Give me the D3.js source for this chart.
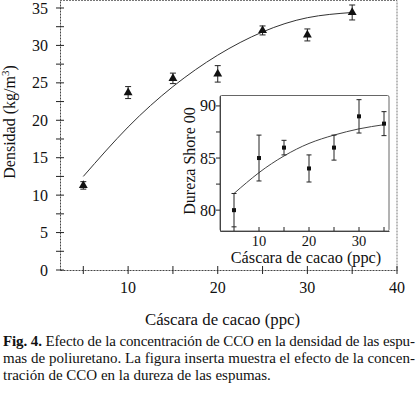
<!DOCTYPE html>
<html><head><meta charset="utf-8">
<script src="https://cdn.jsdelivr.net/npm/d3@7"></script>
<style>body{margin:0;background:#fff}svg{display:block}text{font-family:"Liberation Serif","Times New Roman",serif;fill:#111}</style>
</head><body><svg id="c" width="420" height="398"></svg>
<script>
// Main chart: density vs cocoa shell
const mainX = [5, 10, 15, 20, 25, 30, 35];
const mainY = [11.3, 23.7, 25.6, 26.2, 32.0, 31.4, 34.4];
const mainErr = [0.5, 0.8, 0.7, 1.1, 0.6, 0.8, 1.0];
const mainFitX = [5, 10, 15, 20, 25, 30, 35];
const mainFitY = [12.5, 19.1, 24.5, 28.7, 31.8, 33.7, 34.4];
const mainXTicks = [10, 20, 30, 40];
const mainYTicks = [0, 5, 10, 15, 20, 25, 30, 35];
// Inset: hardness vs cocoa shell
const insetX = [5, 10, 15, 20, 25, 30, 35];
const insetY = [80.0, 85.0, 86.0, 84.0, 86.0, 89.0, 88.3];
const insetErr = [1.6, 2.2, 0.7, 1.3, 1.2, 1.6, 1.15];
const insetFitX = [5, 10, 15, 20, 25, 30, 35];
const insetFitY = [81.6, 83.6, 85.2, 86.4, 87.2, 87.8, 88.2];
const insetXTicks = [10, 20, 30];
const insetYTicks = [80, 85, 90];
const captionLines = [
  ["Fig. 4.", " Efecto de la concentración de CCO en la densidad de las espu-"],
  ["", "mas de poliuretano. La figura inserta muestra el efecto de la concen-"],
  ["", "tración de CCO en la dureza de las espumas."]
];

const svg = d3.select("#c");
const ink = "#222";

// ---- main plot ----
const x = d3.scaleLinear().domain([2.4, 40]).range([60, 397]);
const y = d3.scaleLinear().domain([0, 36]).range([270, 0.5]);

svg.append("path").attr("d", `M${x(2.4)},${y(36)}H${x(40)}V${y(0)}`)
  .attr("fill","none").attr("stroke","#777").attr("stroke-width",1).attr("stroke-dasharray","2,1");

const gx = svg.append("g").attr("transform", `translate(0,${y(0)})`)
  .call(d3.axisBottom(x).tickValues(d3.range(5, 41, 5)).tickSize(0).tickFormat(""));
gx.select(".domain").attr("stroke", "#444").attr("stroke-dasharray","2,1");
d3.range(5, 41, 5).forEach(v => {
  gx.append("line").attr("x1", x(v)).attr("x2", x(v)).attr("y1", -4).attr("y2", 4).attr("stroke", ink);
});
mainXTicks.forEach(v => {
  gx.append("text").attr("x", x(v)).attr("y", 23).attr("text-anchor","middle")
    .attr("font-size", 16).text(v);
});

const gy = svg.append("g").attr("transform", `translate(${x(2.4)},0)`)
  .call(d3.axisLeft(y).tickValues([]).tickSize(0));
gy.select(".domain").attr("stroke", "#444").attr("stroke-dasharray","2,1");
d3.range(0, 36, 2.5).forEach(v => {
  gy.append("line").attr("x1", -4).attr("x2", 4).attr("y1", y(v)).attr("y2", y(v)).attr("stroke", ink);
});
mainYTicks.forEach(v => {
  gy.append("text").attr("x", -12).attr("y", y(v) + 5.5).attr("text-anchor","end")
    .attr("font-size", 16).text(v);
});

svg.append("path").datum(mainFitX.map((v,i)=>[v, mainFitY[i]]))
  .attr("d", d3.line().x(d=>x(d[0])).y(d=>y(d[1])).curve(d3.curveNatural))
  .attr("fill","none").attr("stroke","#333").attr("stroke-width",1);

const mg = svg.append("g");
mainX.forEach((v,i) => {
  const cx = x(v), lo = y(mainY[i]-mainErr[i]), hi = y(mainY[i]+mainErr[i]);
  mg.append("path").attr("d", `M${cx},${lo}V${hi}M${cx-3},${lo}H${cx+3}M${cx-3},${hi}H${cx+3}`)
    .attr("stroke", ink).attr("stroke-width", 1).attr("fill","none");
  mg.append("path").attr("transform", `translate(${cx},${y(mainY[i])})`)
    .attr("d", d3.symbol(d3.symbolTriangle, 34)()).attr("fill", "#111");
});

svg.append("text").attr("transform", `translate(14.5,122) rotate(-90)`).attr("text-anchor","middle")
  .attr("font-size", 16).html('Densidad (kg/m<tspan dy="-6" font-size="11">3</tspan><tspan dy="6">)</tspan>');
svg.append("text").attr("x", 222.5).attr("y", 325).attr("text-anchor","middle")
  .attr("font-size", 16.8).text("Cáscara de cacao (ppc)");

// ---- inset ----
const ix = d3.scaleLinear().domain([2.2, 36]).range([220, 389]);
const iy = d3.scaleLinear().domain([78, 91]).range([231, 95.5]);
svg.append("rect").attr("x", ix(2.2)).attr("y", iy(91)).attr("width", ix(36)-ix(2.2)).attr("height", iy(78)-iy(91))
  .attr("fill","#fff").attr("stroke","#666").attr("stroke-width",1).attr("rx",1.5);

const igx = svg.append("g").attr("transform", `translate(0,${iy(78)})`)
  .call(d3.axisBottom(ix).tickValues([]).tickSize(0));
igx.select(".domain").attr("stroke", "#444");
d3.range(5, 36, 5).forEach(v => {
  igx.append("line").attr("x1", ix(v)).attr("x2", ix(v)).attr("y1", -4).attr("y2", 0).attr("stroke", ink);
});
insetXTicks.forEach(v => {
  igx.append("text").attr("x", ix(v)).attr("y", 14.5).attr("text-anchor","middle").attr("font-size", 14.5).text(v);
});
const igy = svg.append("g").attr("transform", `translate(${ix(2.2)},0)`)
  .call(d3.axisLeft(iy).tickValues([]).tickSize(0));
igy.select(".domain").attr("stroke", "#444");
d3.range(80, 91, 2.5).forEach(v => {
  igy.append("line").attr("x1", 0).attr("x2", -4).attr("y1", iy(v)).attr("y2", iy(v)).attr("stroke", ink);
});
insetYTicks.forEach(v => {
  igy.append("text").attr("x", -4).attr("y", iy(v) + 5.5).attr("text-anchor","end").attr("font-size", 16).text(v);
});

svg.append("path").datum(insetFitX.map((v,i)=>[v, insetFitY[i]]))
  .attr("d", d3.line().x(d=>x0(d[0])).y(d=>iy(d[1])).curve(d3.curveNatural))
  .attr("fill","none").attr("stroke","#444").attr("stroke-width",1);
function x0(v){ return ix(v); }

const ig = svg.append("g");
insetX.forEach((v,i) => {
  const cx = ix(v), lo = iy(insetY[i]-insetErr[i]), hi = iy(insetY[i]+insetErr[i]);
  ig.append("path").attr("d", `M${cx},${lo}V${hi}M${cx-2.5},${lo}H${cx+2.5}M${cx-2.5},${hi}H${cx+2.5}`)
    .attr("stroke", ink).attr("stroke-width", 1).attr("fill","none");
  ig.append("rect").attr("x", cx-2).attr("y", iy(insetY[i])-2).attr("width",4).attr("height",4).attr("fill","#111");
});

svg.append("text").attr("transform", `translate(195,161) rotate(-90)`).attr("text-anchor","middle")
  .attr("font-size", 16).text("Dureza Shore 00");
svg.append("text").attr("x", 306).attr("y", 263).attr("text-anchor","middle")
  .attr("font-size", 16.3).text("Cáscara de cacao (ppc)");

// ---- caption ----
const capY = [346, 363, 380];
captionLines.forEach((ln, i) => {
  const t = svg.append("text").attr("x", 3).attr("y", capY[i]).attr("font-size", 15);
  if (i < 2) t.attr("textLength", 412).attr("lengthAdjust", "spacing");
  if (ln[0]) t.append("tspan").attr("font-weight","bold").text(ln[0]);
  t.append("tspan").text(ln[1]);
});
</script></body></html>
